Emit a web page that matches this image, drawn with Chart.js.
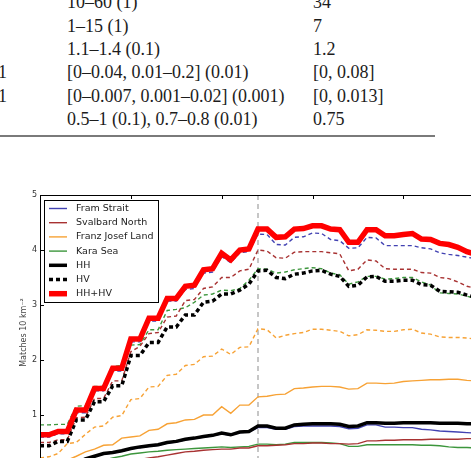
<!DOCTYPE html>
<html>
<head>
<meta charset="utf-8">
<script src="https://cdn.jsdelivr.net/npm/chart.js@4.4.0/dist/chart.umd.min.js"></script>
<style>
  html, body { margin: 0; padding: 0; width: 471px; height: 458px; overflow: hidden; background: #fff; }
  .cell { position: absolute; font-family: "Liberation Serif", "Times New Roman", serif; font-size: 18px; line-height: 18px; color: #1c1c1c; white-space: nowrap; }
  #rule { position: absolute; left: 0; top: 135px; width: 435px; height: 2px; background: #7a7a7a; }
  #chart { position: absolute; left: 0; top: 185px; }
</style>
</head>
<body>
<div id="table"></div>
<div id="rule"></div>
<canvas id="chart" width="600" height="310"></canvas>
<script>
// table fragment above the figure
const tableFirst = ['', '', '', '1', '1', ''];
const tableRange = ['10–60 (1)', '1–15 (1)', '1.1–1.4 (0.1)', '[0–0.04, 0.01–0.2] (0.01)', '[0–0.007, 0.001–0.02] (0.001)', '0.5–1 (0.1), 0.7–0.8 (0.01)'];
const tableChosen = ['34', '7', '1.2', '[0, 0.08]', '[0, 0.013]', '0.75'];

// figure data, one value per step
const steps = [0, 1, 2, 3, 4, 5, 6, 7, 8, 9, 10, 11, 12, 13, 14, 15, 16, 17, 18, 19, 20, 21, 22, 23, 24,
  25, 26, 27, 28, 29, 30, 31, 32, 33, 34, 35, 36, 37, 38, 39, 40, 41, 42, 43, 44, 45, 46, 47, 48];
const markerStep = 24;

const hhhv = [0.64, 0.64, 0.70, 0.70, 1.09, 1.09, 1.48, 1.48, 1.85, 1.85, 2.38, 2.38, 2.76, 2.76, 3.12, 3.12,
  3.34, 3.36, 3.64, 3.66, 3.94, 3.82, 4.00, 4.02, 4.38, 4.38, 4.23, 4.24, 4.38, 4.39, 4.44, 4.44,
  4.38, 4.37, 4.14, 4.14, 4.37, 4.37, 4.26, 4.26, 4.28, 4.30, 4.20, 4.19, 4.12, 4.10, 4.05, 3.97, 3.92];
const hv = [0.44, 0.44, 0.52, 0.52, 0.91, 0.91, 1.24, 1.24, 1.53, 1.53, 2.08, 2.08, 2.32, 2.32, 2.60, 2.60,
  2.82, 2.82, 3.05, 3.07, 3.20, 3.20, 3.27, 3.38, 3.62, 3.63, 3.50, 3.48, 3.56, 3.58, 3.62, 3.63,
  3.56, 3.52, 3.34, 3.36, 3.51, 3.52, 3.43, 3.43, 3.45, 3.45, 3.37, 3.36, 3.25, 3.24, 3.23, 3.18, 3.14];
const hh = [0.02, 0.03, 0.05, 0.08, 0.12, 0.20, 0.25, 0.30, 0.32, 0.35, 0.39, 0.42, 0.44, 0.46, 0.50, 0.52,
  0.56, 0.58, 0.61, 0.63, 0.67, 0.64, 0.69, 0.70, 0.80, 0.80, 0.76, 0.76, 0.82, 0.83, 0.84, 0.84,
  0.84, 0.83, 0.79, 0.80, 0.86, 0.86, 0.85, 0.85, 0.86, 0.86, 0.86, 0.86, 0.85, 0.85, 0.85, 0.84, 0.84];

const framHV = [0.60, 0.60, 0.66, 0.66, 1.04, 1.04, 1.44, 1.44, 1.80, 1.80, 2.33, 2.33, 2.71, 2.71, 3.07, 3.07,
  3.28, 3.30, 3.58, 3.60, 3.88, 3.77, 3.95, 3.97, 4.29, 4.28, 4.10, 4.09, 4.23, 4.24, 4.31, 4.30,
  4.19, 4.17, 4.03, 4.04, 4.23, 4.22, 4.08, 4.08, 4.08, 4.08, 4.04, 4.02, 3.95, 3.92, 3.90, 3.87, 3.84];
const framHH = [0.02, 0.03, 0.05, 0.07, 0.11, 0.19, 0.24, 0.29, 0.31, 0.34, 0.38, 0.41, 0.43, 0.45, 0.49, 0.51,
  0.55, 0.57, 0.60, 0.62, 0.66, 0.63, 0.68, 0.69, 0.77, 0.77, 0.74, 0.74, 0.79, 0.80, 0.80, 0.80,
  0.80, 0.79, 0.75, 0.76, 0.82, 0.82, 0.78, 0.78, 0.77, 0.77, 0.74, 0.73, 0.71, 0.70, 0.69, 0.68, 0.67];
const svalbardHV = [0.50, 0.50, 0.55, 0.55, 0.95, 0.96, 1.30, 1.30, 1.62, 1.62, 2.15, 2.25, 2.48, 2.50, 2.78, 2.80,
  3.08, 3.10, 3.30, 3.33, 3.50, 3.50, 3.62, 3.65, 4.00, 3.98, 3.86, 3.85, 3.96, 3.97, 3.97, 3.97,
  3.95, 3.93, 3.62, 3.65, 3.82, 3.80, 3.66, 3.65, 3.65, 3.65, 3.59, 3.58, 3.50, 3.48, 3.42, 3.34, 3.30];
const svalbardHH = [0.00, 0.00, 0.01, 0.02, 0.03, 0.05, 0.07, 0.10, 0.12, 0.15, 0.17, 0.19, 0.22, 0.24, 0.27, 0.30,
  0.33, 0.34, 0.36, 0.37, 0.38, 0.38, 0.40, 0.40, 0.44, 0.44, 0.45, 0.46, 0.48, 0.48, 0.49, 0.49,
  0.48, 0.48, 0.47, 0.48, 0.53, 0.53, 0.54, 0.54, 0.55, 0.55, 0.55, 0.56, 0.56, 0.56, 0.56, 0.57, 0.57];
const franzHV = [0.22, 0.24, 0.30, 0.48, 0.50, 0.65, 0.78, 0.80, 0.96, 0.99, 1.28, 1.30, 1.51, 1.52, 1.72, 1.74,
  1.90, 1.92, 2.06, 2.07, 2.20, 2.10, 2.23, 2.24, 2.57, 2.55, 2.40, 2.45, 2.48, 2.50, 2.56, 2.56,
  2.54, 2.52, 2.44, 2.46, 2.55, 2.54, 2.52, 2.52, 2.55, 2.56, 2.49, 2.47, 2.42, 2.41, 2.41, 2.40, 2.38];
const franzHH = [0.05, 0.08, 0.12, 0.18, 0.25, 0.33, 0.38, 0.45, 0.46, 0.58, 0.60, 0.62, 0.72, 0.74, 0.84, 0.86,
  0.91, 0.92, 1.00, 1.00, 1.15, 1.03, 1.18, 1.18, 1.33, 1.34, 1.37, 1.38, 1.48, 1.49, 1.51, 1.52,
  1.52, 1.51, 1.47, 1.48, 1.58, 1.58, 1.57, 1.58, 1.61, 1.62, 1.63, 1.64, 1.64, 1.65, 1.65, 1.63, 1.62];
const karaHV = [0.82, 0.82, 0.83, 0.83, 1.16, 1.17, 1.52, 1.52, 1.88, 1.90, 2.27, 2.28, 2.55, 2.55, 2.90, 2.92,
  2.95, 3.05, 3.18, 3.20, 3.27, 3.26, 3.30, 3.45, 3.66, 3.65, 3.58, 3.60, 3.64, 3.66, 3.68, 3.66,
  3.58, 3.55, 3.38, 3.42, 3.52, 3.52, 3.47, 3.48, 3.50, 3.50, 3.42, 3.36, 3.22, 3.21, 3.20, 3.16, 3.12];
const karaHH = [0.00, 0.01, 0.02, 0.04, 0.06, 0.10, 0.14, 0.18, 0.22, 0.25, 0.29, 0.31, 0.33, 0.34, 0.36, 0.37,
  0.38, 0.39, 0.40, 0.41, 0.42, 0.41, 0.42, 0.43, 0.47, 0.47, 0.46, 0.47, 0.50, 0.50, 0.50, 0.50,
  0.49, 0.48, 0.43, 0.43, 0.46, 0.46, 0.46, 0.46, 0.46, 0.46, 0.45, 0.45, 0.44, 0.42, 0.41, 0.41, 0.40];

const legendOrder = ['Fram Strait', 'Svalbard North', 'Franz Josef Land', 'Kara Sea', 'HH', 'HV', 'HH+HV'];

// table rows
const table = document.getElementById('table');
tableRange.forEach((txt, i) => {
  const top = 8.3 + i * 23.35 - 15.1;
  [[tableFirst[i], -2], [txt, 67], [tableChosen[i], 313]].forEach(([t, left]) => {
    if (!t) return;
    const d = document.createElement('div');
    d.className = 'cell';
    d.style.left = left + 'px';
    d.style.top = top + 'px';
    d.textContent = t;
    table.appendChild(d);
  });
});

const BLUE = '#4242b2', DRED = '#a83232', ORANGE = '#f7a235', GREEN = '#3c963c';
const DASH = [4, 3];
const THIN = 1.4;

const line = (label, values, color, width, dash, order) => ({
  label: label,
  data: steps.map((s, i) => ({x: s, y: values[i]})),
  borderColor: color,
  backgroundColor: color,
  borderWidth: width,
  borderDash: dash,
  order: order,
  pointRadius: 0,
  fill: false,
  tension: 0
});

const frame = {
  id: 'frame',
  afterDatasetsDraw(chart) {
    const {ctx, chartArea: a, scales: {x, y}} = chart;
    ctx.save();
    ctx.strokeStyle = '#000';
    ctx.lineWidth = 1;
    ctx.setLineDash([]);
    ctx.strokeRect(a.left + 0.5, a.top + 0.5, a.right - a.left - 1, a.bottom - a.top - 1);
    // ticks point inwards
    ctx.beginPath();
    y.ticks.forEach(t => {
      const py = Math.round(y.getPixelForValue(t.value)) + 0.5;
      ctx.moveTo(a.left, py); ctx.lineTo(a.left + 4, py);
      ctx.moveTo(a.right, py); ctx.lineTo(a.right - 4, py);
    });
    x.ticks.forEach(t => {
      const px = Math.round(x.getPixelForValue(t.value)) + 0.5;
      ctx.moveTo(px, a.top); ctx.lineTo(px, a.top + 4);
      ctx.moveTo(px, a.bottom); ctx.lineTo(px, a.bottom - 4);
    });
    ctx.stroke();

    // legend box in the upper left corner
    const lx = a.left + 4, ly = a.top + 5;
    ctx.fillStyle = '#fff';
    ctx.fillRect(lx, ly, 114, 102);
    ctx.strokeRect(lx + 0.5, ly + 0.5, 114, 102);
    ctx.font = '9.5px "DejaVu Sans"';
    ctx.textBaseline = 'middle';
    legendOrder.forEach((name, k) => {
      const ds = chart.data.datasets.find(d => d.label === name);
      const cy = ly + 8.5 + k * 14.2;
      ctx.beginPath();
      ctx.setLineDash(ds.borderDash);
      ctx.strokeStyle = ds.borderColor;
      ctx.lineWidth = ds.borderWidth;
      ctx.moveTo(lx + 5, cy);
      ctx.lineTo(lx + 23, cy);
      ctx.stroke();
      ctx.setLineDash([]);
      ctx.fillStyle = '#222';
      ctx.fillText(name, lx + 32, cy);
    });
    ctx.restore();
  }
};

new Chart(document.getElementById('chart'), {
  type: 'line',
  data: {
    datasets: [
      line('HH+HV', hhhv, '#ff0000', 5.5, [], 0),
      line('HV', hv, '#000000', 3.5, DASH, 1),
      line('HH', hh, '#000000', 3.5, [], 1),
      line('Fram Strait', framHH, BLUE, THIN, [], 2),
      line('Fram Strait HV', framHV, BLUE, THIN, DASH, 2),
      line('Svalbard North', svalbardHH, DRED, THIN, [], 2),
      line('Svalbard North HV', svalbardHV, DRED, THIN, DASH, 2),
      line('Franz Josef Land', franzHH, ORANGE, THIN, [], 2),
      line('Franz Josef Land HV', franzHV, ORANGE, THIN, DASH, 2),
      line('Kara Sea', karaHH, GREEN, THIN, [], 2),
      line('Kara Sea HV', karaHV, GREEN, THIN, DASH, 2),
      {
        label: 'marker',
        data: [{x: markerStep, y: 0}, {x: markerStep, y: 5}],
        borderColor: '#b4b4b4',
        borderWidth: 1.5,
        borderDash: [5, 4],
        order: 5,
        pointRadius: 0
      }
    ]
  },
  options: {
    responsive: false,
    animation: false,
    layout: {padding: {top: 10, right: 15, left: 0, bottom: 0}},
    plugins: {legend: {display: false}, tooltip: {enabled: false}},
    scales: {
      x: {
        type: 'linear', min: 0, max: 60,
        ticks: {stepSize: 10, display: false},
        grid: {display: false, drawTicks: false},
        border: {display: false},
        afterFit: s => { s.height = 25; }
      },
      y: {
        min: 0, max: 5,
        ticks: {stepSize: 1, padding: 3, color: '#333', font: {family: 'DejaVu Sans', size: 8}},
        grid: {display: false, drawTicks: false},
        border: {display: false},
        title: {
          display: true,
          text: 'Matches 10 km⁻²',
          color: '#444',
          font: {family: 'DejaVu Sans', size: 8},
          padding: {top: 19, bottom: 0}
        },
        afterFit: s => { s.width = 40; }
      }
    }
  },
  plugins: [frame]
});
</script>
</body>
</html>
